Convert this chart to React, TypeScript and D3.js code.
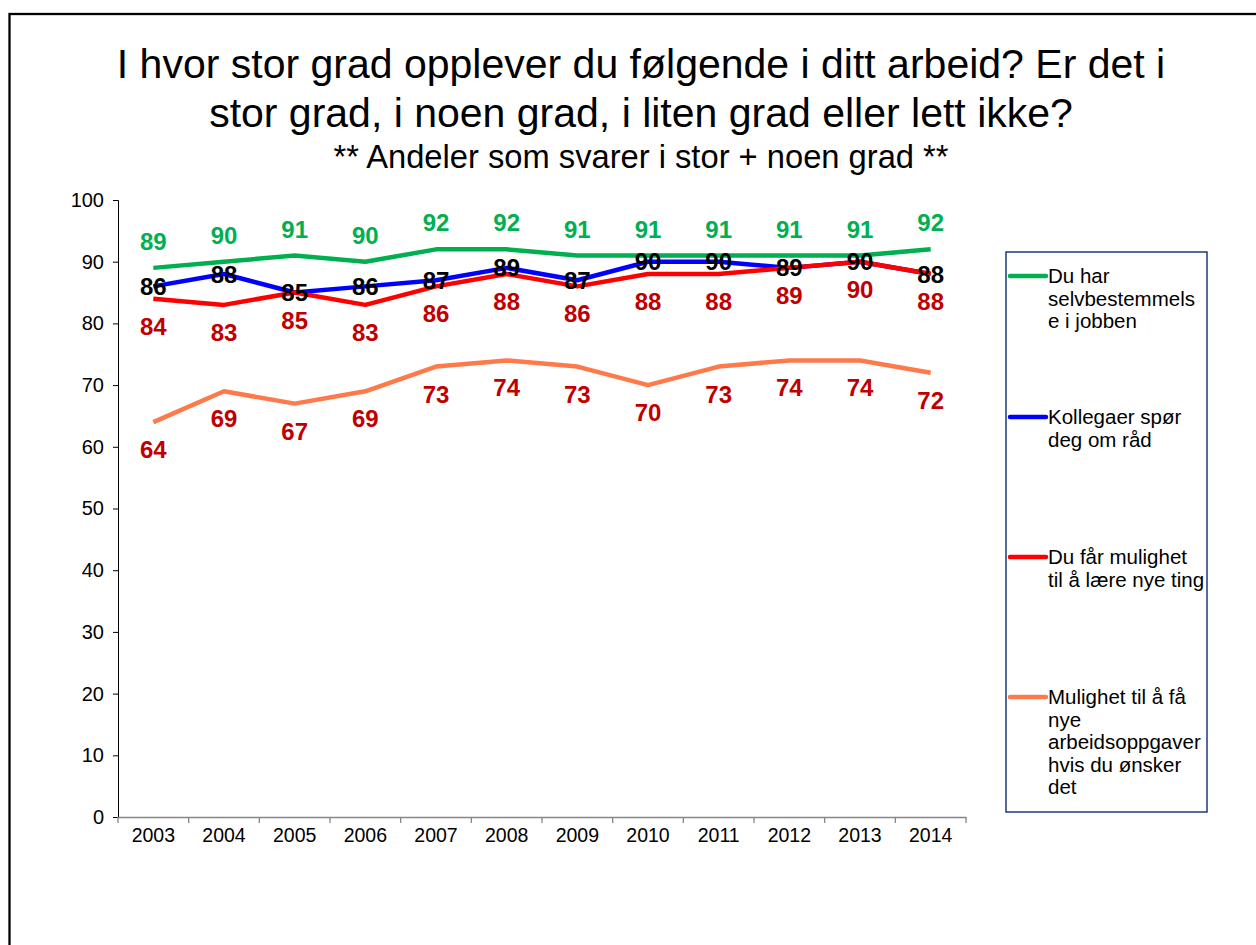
import React, { useEffect, useRef } from "react";
import * as d3 from "d3";

const years = ["2003", "2004", "2005", "2006", "2007", "2008", "2009", "2010", "2011", "2012", "2013", "2014"];
const selvbestemmelse = [89, 90, 91, 90, 92, 92, 91, 91, 91, 91, 91, 92];
const kollegaer = [86, 88, 85, 86, 87, 89, 87, 90, 90, 89, 90, 88];
const laere = [84, 83, 85, 83, 86, 88, 86, 88, 88, 89, 90, 88];
const nyeOppgaver = [64, 69, 67, 69, 73, 74, 73, 70, 73, 74, 74, 72];
const yTicks = [0, 10, 20, 30, 40, 50, 60, 70, 80, 90, 100];

const series = [
  { name: ["Du har", "selvbestemmels", "e i jobben"], values: selvbestemmelse, color: "#00B050", labelColor: "#00B050", labelPos: "above" },
  { name: ["Kollegaer spør", "deg om råd"], values: kollegaer, color: "#0000FF", labelColor: "#000000", labelPos: "center" },
  { name: ["Du får mulighet", "til å lære nye ting"], values: laere, color: "#FF0000", labelColor: "#C00000", labelPos: "below" },
  { name: ["Mulighet til å få", "nye", "arbeidsoppgaver", "hvis du ønsker", "det"], values: nyeOppgaver, color: "#FF7A4A", labelColor: "#C00000", labelPos: "below" }
];

const font = "'Liberation Sans', Arial, sans-serif";

function App() {
  const svgRef = useRef(null);

  useEffect(() => {
    const svg = d3.select(svgRef.current);
    svg.selectAll("*").remove();

    const width = 1256;
    const height = 945;
    svg.attr("width", width).attr("height", height);

    svg.append("rect").attr("width", width).attr("height", height).attr("fill", "#fff");

    // outer frame, runs off the right and bottom edges
    svg
      .append("rect")
      .attr("x", 9.5)
      .attr("y", 14)
      .attr("width", 1400)
      .attr("height", 1100)
      .attr("fill", "none")
      .attr("stroke", "#000")
      .attr("stroke-width", 2.3);

    // titles
    const titles = [
      { text: "I hvor stor grad opplever du følgende i ditt arbeid? Er det i", y: 78, size: 41 },
      { text: "stor grad, i noen grad, i liten grad eller lett ikke?", y: 127, size: 41 },
      { text: "** Andeler som svarer i stor + noen grad **", y: 168, size: 32.7 }
    ];
    svg
      .selectAll("text.title")
      .data(titles)
      .enter()
      .append("text")
      .attr("class", "title")
      .attr("x", 641)
      .attr("y", d => d.y)
      .attr("text-anchor", "middle")
      .style("font-family", font)
      .style("font-size", d => `${d.size}px`)
      .text(d => d.text);

    const x = d3.scaleBand().domain(years).range([118, 966]);
    const y = d3.scaleLinear().domain([0, 100]).range([817, 200]);
    const cx = d => x(d) + x.bandwidth() / 2;

    // y axis
    const yAxis = svg.append("g").attr("transform", "translate(118,0)");
    yAxis.call(d3.axisLeft(y).tickValues(yTicks).tickSize(5).tickPadding(9));
    yAxis.select(".domain").attr("stroke", "#000");
    yAxis.selectAll(".tick line").attr("stroke", "#000");
    yAxis
      .selectAll(".tick text")
      .attr("fill", "#000")
      .style("font-family", font)
      .style("font-size", "20px");

    // x axis
    const xAxis = svg.append("g").attr("transform", "translate(0,817)");
    xAxis.call(d3.axisBottom(x).tickSize(0).tickPadding(0).tickFormat(() => ""));
    xAxis.select(".domain").attr("stroke", "#868686").attr("stroke-width", 1.3);
    xAxis.selectAll(".tick").remove();
    const edges = years.map(d => x(d)).concat([x(years[years.length - 1]) + x.bandwidth()]);
    xAxis
      .selectAll("line.edge")
      .data(edges)
      .enter()
      .append("line")
      .attr("class", "edge")
      .attr("x1", d => d)
      .attr("x2", d => d)
      .attr("y1", 0)
      .attr("y2", 6)
      .attr("stroke", "#868686")
      .attr("stroke-width", 1.3);
    xAxis
      .selectAll("text.year")
      .data(years)
      .enter()
      .append("text")
      .attr("class", "year")
      .attr("x", d => cx(d))
      .attr("y", 25)
      .attr("text-anchor", "middle")
      .attr("fill", "#000")
      .style("font-family", font)
      .style("font-size", "19.5px")
      .text(d => d);

    const line = d3
      .line()
      .x((d, i) => cx(years[i]))
      .y(d => y(d));

    svg
      .append("g")
      .selectAll("path")
      .data(series)
      .enter()
      .append("path")
      .attr("d", d => line(d.values))
      .attr("fill", "none")
      .attr("stroke", d => d.color)
      .attr("stroke-width", 4.5)
      .attr("stroke-linejoin", "round");

    const labels = svg.append("g");
    series.forEach(s => {
      const dy = s.labelPos === "above" ? -18 : s.labelPos === "center" ? 8.5 : 36;
      labels
        .selectAll(null)
        .data(s.values)
        .enter()
        .append("text")
        .attr("x", (d, i) => cx(years[i]))
        .attr("y", d => y(d) + dy)
        .attr("text-anchor", "middle")
        .attr("fill", s.labelColor)
        .style("font-family", font)
        .style("font-size", "24px")
        .style("font-weight", "bold")
        .text(d => d);
    });

    // legend
    const legend = svg.append("g");
    legend
      .append("rect")
      .attr("x", 1006)
      .attr("y", 252)
      .attr("width", 201)
      .attr("height", 560)
      .attr("fill", "#fff")
      .attr("stroke", "#1F3A7A")
      .attr("stroke-width", 1.5);

    const entryY = [276, 417, 557, 697];
    series.forEach((s, i) => {
      const g = legend.append("g").attr("transform", `translate(0,${entryY[i]})`);
      g.append("line")
        .attr("x1", 1010)
        .attr("x2", 1046)
        .attr("y1", 0)
        .attr("y2", 0)
        .attr("stroke", s.color)
        .attr("stroke-width", 4.5)
        .attr("stroke-linecap", "round");
      g.selectAll("text")
        .data(s.name)
        .enter()
        .append("text")
        .attr("x", 1048)
        .attr("y", (d, j) => 7 + j * 22.5)
        .style("font-family", font)
        .style("font-size", "20.5px")
        .text(d => d);
    });
  });

  return (
    <svg
      ref={svgRef}
      width={1256}
      height={945}
      style={{ position: "absolute", left: 0, top: 0, display: "block" }}
    />
  );
}

export default App;
